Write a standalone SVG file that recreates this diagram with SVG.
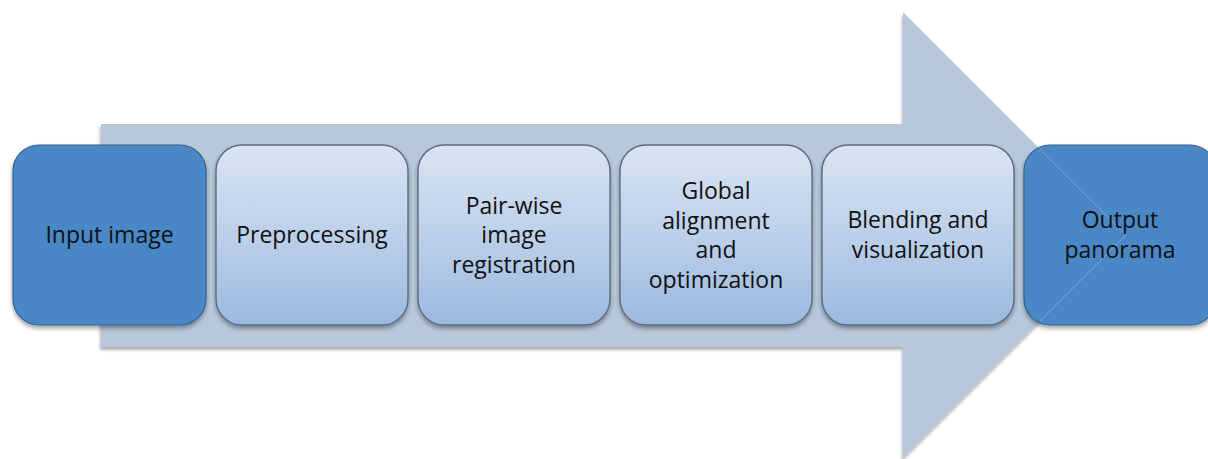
<svg xmlns="http://www.w3.org/2000/svg" width="1208" height="459" viewBox="0 0 1208 459">
  <defs>
    <linearGradient id="stepFill" x1="0" y1="0" x2="0" y2="1">
      <stop offset="0" stop-color="#D9E4F2"/>
      <stop offset="0.5" stop-color="#BCD0EA"/>
      <stop offset="1" stop-color="#9BB9DF"/>
    </linearGradient>
    <filter id="shadow" x="-10%" y="-10%" width="120%" height="125%">
      <feDropShadow dx="0" dy="3" stdDeviation="2" flood-color="#000" flood-opacity="0.35"/>
    </filter>
    <filter id="arrowShadow" x="-5%" y="-5%" width="110%" height="110%">
      <feDropShadow dx="-1" dy="3" stdDeviation="1.5" flood-color="#000" flood-opacity="0.3"/>
    </filter>
  </defs>
  <style>
    .step { fill: url(#stepFill); stroke: #5B6B80; stroke-width: 1.4; filter: url(#shadow); }
    .end { fill: #4A87C6; stroke: #34608E; stroke-width: 1.2; filter: url(#shadow); }
    .label { font-family: "Open Sans", "Liberation Sans", sans-serif; font-size: 23px; fill: #111; text-anchor: middle; }
  </style>

  <!-- big background arrow -->
  <g id="connectors">
    <path d="M101,124 H903 V12 L1126,235 L903,458 V347 H101 Z" fill="#B8C8DA" filter="url(#arrowShadow)"/>
  </g>

  <g id="node-input">
    <rect class="end" x="13" y="145" width="193" height="180" rx="26"/>
    <text class="label" x="109.5" y="243">Input image</text>
  </g>

  <g id="node-preprocessing">
    <rect class="step" x="216" y="145" width="192" height="180" rx="26"/>
    <text class="label" x="312" y="243">Preprocessing</text>
  </g>

  <g id="node-registration">
    <rect class="step" x="418" y="145" width="192" height="180" rx="26"/>
    <text class="label" x="514" y="213.5">Pair-wise</text>
    <text class="label" x="514" y="243">image</text>
    <text class="label" x="514" y="272.5">registration</text>
  </g>

  <g id="node-global">
    <rect class="step" x="620" y="145" width="192" height="180" rx="26"/>
    <text class="label" x="716" y="199">Global</text>
    <text class="label" x="716" y="228.5">alignment</text>
    <text class="label" x="716" y="258">and</text>
    <text class="label" x="716" y="287.5">optimization</text>
  </g>

  <g id="node-blending">
    <rect class="step" x="822" y="145" width="192" height="180" rx="26"/>
    <text class="label" x="918" y="228">Blending and</text>
    <text class="label" x="918" y="257.5">visualization</text>
  </g>

  <g id="node-output">
    <rect class="end" x="1024" y="145" width="192" height="180" rx="26"/>
    <!-- faint arrow-head outline showing through -->
    <path d="M1040,149 L1126,235 L1040,321" fill="none" stroke="#9FBCDD" stroke-width="0.8" opacity="0.7"/>
    <text class="label" x="1120" y="228">Output</text>
    <text class="label" x="1120" y="257.5">panorama</text>
  </g>
</svg>
